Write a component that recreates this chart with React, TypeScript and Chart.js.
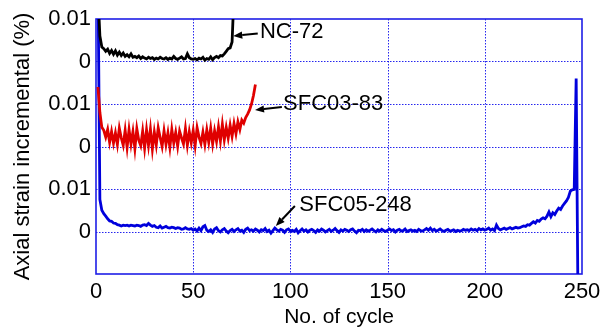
import React, { useEffect, useRef } from 'react';
import { Chart, registerables } from 'chart.js';

Chart.register(...registerables);

// x axis (No. of cycle)
const xMin = 0;
const xMax = 250;
const xStep = 50;

// y axis in units of 0.001 % ; three records stacked with offsets
const yTickValues = [-10, 0, 10, 20, 30, 40, 50];
const yTickLabels = ['', '0', '0.01', '0', '0.01', '0', '0.01'];

const seriesNames = ['NC-72', 'SFC03-83', 'SFC05-248'];
const seriesOffsets = [40, 20, 0];

// values per cycle (starting at cycle 1), unit: 0.001 %
const nc72 = [
  16, 6, 3.4, 3.0, 2.4, 2.9, 1.9, 2.6, 1.7, 2.5,
  1.5, 2.2, 1.4, 2.0, 1.2, 1.6, 1.1, 1.8, 1.0, 1.2,
  0.9, 1.3, 0.7, 1.1, 0.8, 0.6, 1.0, 0.7, 0.9, 0.5,
  0.8, 0.6, 1.0, 0.7, 0.6, 0.9, 0.5, 0.8, 0.6, 1.2,
  0.7, 0.5, 0.8, 1.1, 0.6, 0.7, 1.8, 0.9, 0.6, 0.5,
  0.7, 0.4, 0.8, 0.6, 1.0, 0.3, 0.7, 0.5, 1.1, 0.4,
  0.9, 1.2, 0.9, 1.4, 1.3, 1.8, 2.4, 3.0, 3.2, 4.6,
  16,
];

const sfc0383 = [
  14, 8, 4.5, 3.8, 2.2, 4.0, 1.0, 3.5, 0.8, 3.2,
  0.5, 4.3, 2.0, 0.3, 3.8, -0.2, 4.0, 0.6, 3.5, -0.5,
  4.2, 1.5, 0.2, 3.6, -0.4, 3.9, 0.3, 4.1, -0.6, 3.4,
  0.4, 4.4, 2.1, 0.0, 3.7, 0.5, 3.2, -0.2, 4.0, 0.8,
  3.3, 0.1, 3.6, 2.0, 0.6, 4.2, 0.3, 3.5, 0.9, 3.8,
  0.2, 4.4, 2.2, 0.7, 3.4, 0.5, 3.9, 1.0, 4.3, 0.6,
  3.7, 1.2, 4.6, 1.3, 5.2, 1.6, 4.5, 2.0, 5.0, 2.4,
  5.4, 3.0, 5.8, 4.0, 6.2, 5.5, 6.8, 7.6, 8.6, 10.0,
  12.0, 14.6,
];

const sfc05248 = [
  60, 7.5, 5.0, 4.2, 3.6, 3.0, 2.5, 2.4, 2.0, 1.9,
  1.6, 1.5, 1.3, 1.5, 1.4, 1.5, 1.3, 1.5, 1.4, 1.3,
  1.5, 1.4, 1.2, 1.5, 1.6, 1.4, 1.9, 1.5, 1.2, 1.4,
  1.0, 0.9, 1.3, 0.8, 1.0, 1.2, 0.9, 0.8, 1.0, 0.9,
  0.7, 0.9, 0.8, 0.5, 0.6, 0.9, 0.6, 0.5, 0.7, 0.3,
  0.6, 0.1, 0.8, 0.2, 1.1, 1.4, 0.3, 0.0, 0.4, -0.2,
  0.6, 0.9, 0.2, -0.1, 0.4, 0.7, 0.1, -0.3, 0.2, 0.5,
  0.0, 0.4, 0.7, 0.1, 0.3, -0.2, 0.5, 0.8, 0.2, 0.4,
  0.1, 0.6, 0.3, -0.1, 0.4, 0.2, 0.7, 0.0, 0.3, -0.4,
  0.2, 0.8, 0.4, 0.1, 0.5, 0.3, -0.2, 0.4, 0.6, 0.1,
  0.3, 0.0, 0.5, -0.3, 0.2, 0.6, 0.1, 0.4, -0.1, 0.3,
  0.5, 0.2, -0.2, 0.4, 0.1, 0.6, 0.3, -0.1, 0.2, 0.5,
  0.0, 0.3, 0.7, 0.2, -0.2, 0.4, 0.1, 0.5, 0.3, 0.0,
  0.4, 0.6, 0.1, -0.3, 0.3, 0.2, 0.5, 0.0, 0.4, 0.1,
  0.3, 0.6, 0.2, -0.1, 0.4, 0.1, 0.5, 0.2, 0.0, 0.3,
  0.6, 0.2, 0.4, -0.1, 0.3, 0.5, 0.1, 0.2, 0.6, 0.0,
  0.2, 0.4, 0.1, 0.3, 0.0, 0.5, 0.2, 0.1, 0.4, 0.7,
  0.3, 0.8, 0.2, 0.5, 0.1, 0.3, 0.6, 0.2, 0.0, 0.3,
  0.5, 0.1, 0.2, 0.4, 0.0, 0.3, 0.1, 0.2, 0.5, 0.3,
  0.4, 0.2, 0.6, 0.3, 0.5, 0.2, 0.7, 0.4, 0.6, 0.3,
  0.5, 0.8, 0.3, 0.6, 0.2, 1.5, 0.7, 0.4, 0.6, 0.8,
  0.5, 0.7, 0.9, 0.6, 0.8, 1.0, 0.8, 0.9, 1.1, 1.3,
  1.2, 1.6, 1.5, 1.9, 2.3, 2.0, 2.6, 2.4, 2.9, 3.2,
  3.0, 3.6, 4.6, 3.5, 4.4, 4.0, 4.8, 5.5, 5.2, 6.0,
  6.6, 7.2, 8.0, 9.5, 9.8, 9.9, 36, -20,
];

const seriesValues = [nc72, sfc0383, sfc05248];
const seriesColors = ['#000000', '#e00000', '#0000dc'];

// label annotations (data coordinates: cycle, stacked y)
const labelTexts = ['NC-72', 'SFC03-83', 'SFC05-248'];
const labelTextAt = [[84.3, 46.9], [96.2, 29.9], [104.6, 6.2]];
const labelArrowTail = [[83.2, 46.6], [95.6, 29.3], [102.3, 6.0]];
const labelArrowTip = [[70.6, 46.0], [81.8, 28.6], [92.5, 1.3]];

const FONT = '"Liberation Sans", Arial, sans-serif';
const GRID_COLOR = 'rgba(0,0,235,0.85)';

// dotted grid + solid frame
const framePlugin = {
  id: 'frame',
  beforeDatasetsDraw(chart: any) {
    const { ctx, chartArea } = chart;
    const { left, right, top, bottom } = chartArea;
    const xs = chart.scales.x;
    const ys = chart.scales.y;
    ctx.save();
    ctx.strokeStyle = GRID_COLOR;
    ctx.lineWidth = 1;
    ctx.setLineDash([1.5, 1.5]);
    xs.ticks.forEach((t: any) => {
      const px = Math.round(xs.getPixelForValue(t.value)) + 0.5;
      if (px <= left + 2 || px >= right - 2) return;
      ctx.beginPath();
      ctx.moveTo(px, top);
      ctx.lineTo(px, bottom);
      ctx.stroke();
    });
    ys.ticks.forEach((t: any) => {
      const py = Math.round(ys.getPixelForValue(t.value)) + 0.5;
      if (py <= top + 2 || py >= bottom - 2) return;
      ctx.beginPath();
      ctx.moveTo(left, py);
      ctx.lineTo(right, py);
      ctx.stroke();
    });
    ctx.setLineDash([]);
    ctx.strokeStyle = '#1e1ee6';
    ctx.lineWidth = 1.6;
    ctx.strokeRect(left, top, right - left, bottom - top);
    ctx.restore();
  },
};

const annotationPlugin = {
  id: 'labelsArrows',
  afterDatasetsDraw(chart: any) {
    const { ctx } = chart;
    const xs = chart.scales.x;
    const ys = chart.scales.y;
    ctx.save();
    for (let i = 0; i < labelTexts.length; i++) {
      const tx = xs.getPixelForValue(labelArrowTail[i][0]);
      const ty = ys.getPixelForValue(labelArrowTail[i][1]);
      const px = xs.getPixelForValue(labelArrowTip[i][0]);
      const py = ys.getPixelForValue(labelArrowTip[i][1]);
      const ang = Math.atan2(py - ty, px - tx);
      const head = 9;
      const half = 3.6;
      const bx = px - Math.cos(ang) * head;
      const by = py - Math.sin(ang) * head;
      ctx.strokeStyle = '#000';
      ctx.fillStyle = '#000';
      ctx.lineWidth = 2;
      ctx.beginPath();
      ctx.moveTo(tx, ty);
      ctx.lineTo(bx, by);
      ctx.stroke();
      ctx.beginPath();
      ctx.moveTo(px, py);
      ctx.lineTo(bx + Math.sin(ang) * half, by - Math.cos(ang) * half);
      ctx.lineTo(bx - Math.sin(ang) * half, by + Math.cos(ang) * half);
      ctx.closePath();
      ctx.fill();
      ctx.font = `22px ${FONT}`;
      ctx.textAlign = 'left';
      ctx.textBaseline = 'middle';
      ctx.fillText(labelTexts[i], xs.getPixelForValue(labelTextAt[i][0]), ys.getPixelForValue(labelTextAt[i][1]));
    }
    ctx.restore();
  },
};

export default function App() {
  const canvasRef = useRef<HTMLCanvasElement | null>(null);

  useEffect(() => {
    if (!canvasRef.current) return;
    const datasets = seriesValues.map((vals, s) => ({
      label: seriesNames[s],
      data: vals.map((v, i) => ({ x: i + 1, y: v + seriesOffsets[s] })),
      borderColor: seriesColors[s],
      backgroundColor: seriesColors[s],
      borderWidth: 2.8,
      pointRadius: 0,
      tension: 0,
      fill: false,
    }));

    const chart = new Chart(canvasRef.current, {
      type: 'line',
      data: { datasets },
      plugins: [framePlugin, annotationPlugin],
      options: {
        animation: false,
        responsive: true,
        maintainAspectRatio: false,
        layout: { padding: { top: 19, right: 30, bottom: 0, left: 0 } },
        plugins: {
          legend: { display: false },
          tooltip: { enabled: false },
        },
        scales: {
          x: {
            type: 'linear',
            min: xMin,
            max: xMax,
            ticks: {
              stepSize: xStep,
              color: '#000',
              font: { family: FONT, size: 22 },
              padding: 5,
              maxRotation: 0,
            },
            grid: { display: false, drawTicks: false },
            border: { display: false },
            title: {
              display: true,
              text: 'No. of cycle',
              color: '#000',
              font: { family: FONT, size: 21 },
              padding: { top: 0, bottom: 2 },
            },
            afterFit: (s: any) => { s.height = 58; },
          },
          y: {
            type: 'linear',
            min: yTickValues[0],
            max: yTickValues[yTickValues.length - 1],
            afterBuildTicks: (s: any) => { s.ticks = yTickValues.map((v) => ({ value: v })); },
            ticks: {
              color: '#000',
              font: { family: FONT, size: 22 },
              padding: 5,
              callback: (v: any) => {
                const idx = yTickValues.indexOf(Number(v));
                return idx >= 0 ? yTickLabels[idx] : '';
              },
            },
            grid: { display: false, drawTicks: false },
            border: { display: false },
            title: {
              display: true,
              text: 'Axial strain incremental (%)',
              color: '#000',
              font: { family: FONT, size: 22 },
              padding: { top: 10, bottom: 0 },
            },
            afterFit: (s: any) => { s.width = 96; },
          },
        },
      },
    });
    return () => chart.destroy();
  }, []);

  return (
    <div style={{ position: 'fixed', left: 0, top: 0, width: 612, height: 332, background: '#fff' }}>
      <canvas ref={canvasRef} />
    </div>
  );
}
